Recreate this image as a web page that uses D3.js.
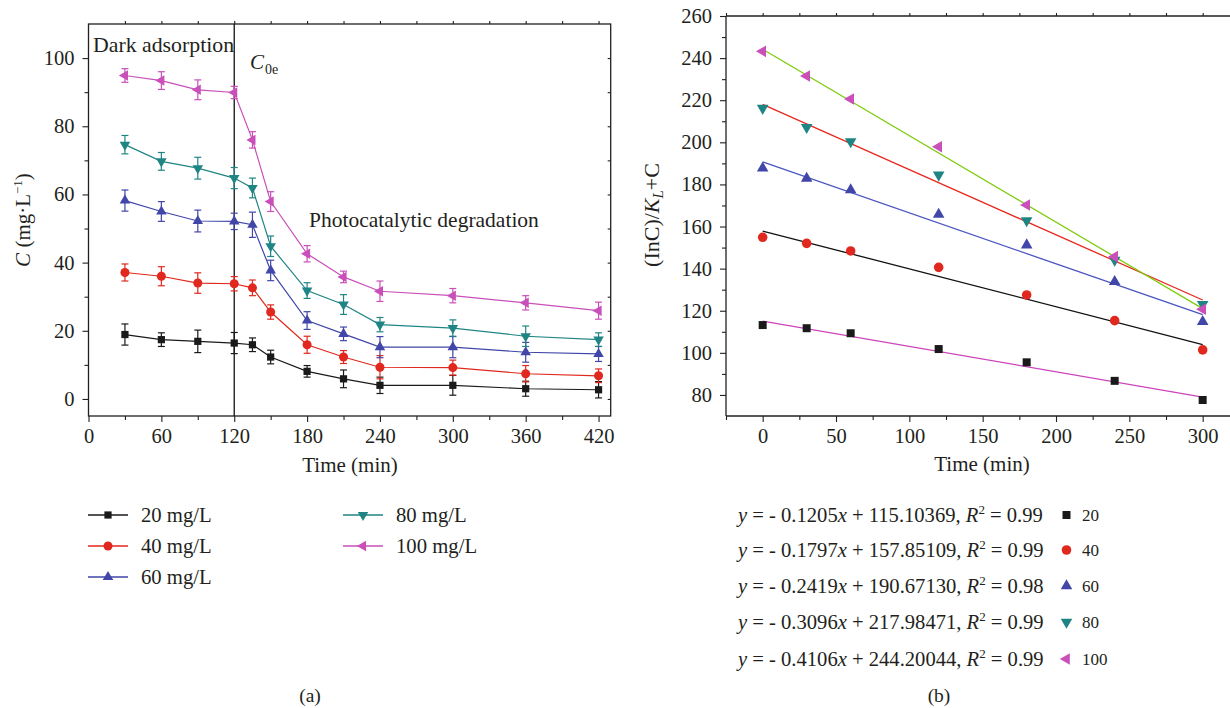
<!DOCTYPE html>
<html><head><meta charset="utf-8">
<script src="https://cdn.jsdelivr.net/npm/d3@7"></script>
<style>
html,body{margin:0;padding:0;background:#fff;}
svg text{font-family:"Liberation Serif","DejaVu Serif",serif;fill:#231f20;}
</style></head>
<body><svg id="c" width="1230" height="708"></svg>
<script>
// ---------- DATA ----------
const seriesNames = ["20 mg/L","40 mg/L","60 mg/L","80 mg/L","100 mg/L"];
const shortNames = ["20","40","60","80","100"];
const colors = ["#1a1a1a","#e0281e","#4146a8","#1f8584","#c94fb9"];
const fitColors = ["#cc44bb","#111111","#4a55c0","#e8281c","#7fcc10"];
const timesA = [30,60,90,120,135,150,180,210,240,300,360,420];
const valA20  = [18.9,17.4,16.9,16.4,15.9,12.3,8.1,5.9,4.0,4.0,3.0,2.7];
const valA40  = [37.1,36.0,34.0,33.8,32.6,25.5,15.9,12.3,9.3,9.2,7.4,6.8];
const valA60  = [58.2,55.0,52.2,52.1,51.1,37.7,23.0,19.1,15.2,15.2,13.7,13.2];
const valA80  = [74.6,69.7,67.7,64.8,61.9,44.8,31.8,27.7,21.8,20.8,18.4,17.4];
const valA100 = [94.9,93.4,90.7,89.9,76.0,57.9,42.6,35.8,31.6,30.3,28.2,25.9];
const errA20  = [3.1,2.0,3.3,3.1,2.0,2.0,1.7,2.6,2.4,2.9,2.2,2.4];
const errA40  = [2.5,2.8,3.0,2.1,2.3,2.1,2.5,1.9,3.4,2.2,2.4,2.0];
const errA60  = [3.1,2.9,3.2,2.4,3.7,3.0,2.6,2.0,3.1,3.1,2.9,2.2];
const errA80  = [2.7,2.6,3.2,3.1,2.9,3.0,2.3,2.9,2.1,2.4,3.0,2.0];
const errA100 = [2.0,2.6,2.9,1.8,2.4,2.9,2.4,1.7,3.0,2.1,2.1,2.5];
const xTicksA = [0,60,120,180,240,300,360,420];
const yTicksA = [0,20,40,60,80,100];

const timesB = [0,30,60,120,180,240,300];
const valB20  = [113.2,111.7,109.3,101.8,95.5,86.7,77.6];
const valB40  = [154.9,152.0,148.4,140.6,127.5,115.3,101.4];
const valB60  = [187.7,182.9,177.4,165.8,151.2,133.8,114.8];
const valB80  = [216.2,207.1,200.3,184.5,162.8,144.1,123.0];
const valB100 = [243.2,231.5,220.6,197.9,170.2,145.7,120.7];
const fitSlopes = [-0.1205,-0.1797,-0.2419,-0.3096,-0.4106];
const fitIntercepts = [115.10369,157.85109,190.67130,217.98471,244.20044];
const fitR2 = [0.99,0.99,0.98,0.99,0.99];
const xTicksB = [0,50,100,150,200,250,300];
const yTicksB = [80,100,120,140,160,180,200,220,240,260];

const valsA = [valA20,valA40,valA60,valA80,valA100];
const errsA = [errA20,errA40,errA60,errA80,errA100];
const valsB = [valB20,valB40,valB60,valB80,valB100];

// ---------- SETUP ----------
const svg = d3.select("#c");
const FT = 20.5; // tick font
const symTypes = [
  {t:d3.symbolSquare, rot:0},
  {t:d3.symbolCircle, rot:0},
  {t:d3.symbolTriangle, rot:0},
  {t:d3.symbolTriangle, rot:180},
  {t:d3.symbolTriangle, rot:-90}
];
const sizesA = [52,64,48,48,48];
const sizesB = [64,72,58,58,58];
function marker(g, i, x, y, size){
  g.append("path")
    .attr("d", d3.symbol().type(symTypes[i].t).size(size)())
    .attr("transform", `translate(${x},${y}) rotate(${symTypes[i].rot})`)
    .attr("fill", colors[i]);
}

// ---------- CHART A ----------
const xA = d3.scaleLinear().domain([0,430]).range([88.5,610.7]);
const yA = d3.scaleLinear().domain([-5,110]).range([416,24]);
const gA = svg.append("g");

gA.append("rect").attr("x",xA(0)).attr("y",yA(110)).attr("width",xA(430)-xA(0)).attr("height",yA(-5)-yA(110))
  .attr("fill","none").attr("stroke","#231f20").attr("stroke-width",1.3);

gA.append("g").attr("transform",`translate(0,${yA(-5)})`)
  .call(d3.axisBottom(xA).tickValues(xTicksA).tickSize(6).tickSizeOuter(0).tickPadding(6));
gA.append("g").attr("transform",`translate(0,${yA(-5)})`)
  .call(d3.axisBottom(xA).tickValues(d3.range(30,430,60)).tickSize(4).tickFormat("").tickSizeOuter(0));
gA.append("g").attr("transform",`translate(0,${yA(110)})`)
  .call(d3.axisTop(xA).tickValues(d3.range(30,430,30)).tickSize(3).tickFormat("").tickSizeOuter(0));
gA.append("g").attr("transform",`translate(${xA(0)},0)`)
  .call(d3.axisLeft(yA).tickValues(yTicksA).tickSize(6).tickSizeOuter(0).tickPadding(8));
gA.append("g").attr("transform",`translate(${xA(0)},0)`)
  .call(d3.axisLeft(yA).tickValues(d3.range(10,110,20)).tickSize(4).tickFormat("").tickSizeOuter(0));
gA.append("g").attr("transform",`translate(${xA(430)},0)`)
  .call(d3.axisLeft(yA).tickValues(d3.range(0,110,10)).tickSize(3).tickFormat("").tickSizeOuter(0));

gA.selectAll(".domain").attr("stroke","none");
gA.selectAll(".tick line").attr("stroke","#231f20").attr("stroke-width",1.1);
gA.selectAll(".tick text").attr("font-size",FT).attr("fill","#231f20");

gA.append("line").attr("x1",xA(120)).attr("x2",xA(120)).attr("y1",yA(110)).attr("y2",yA(-5))
  .attr("stroke","#111").attr("stroke-width",1.3);

valsA.forEach((vals,i)=>{
  const pts = timesA.map((t,k)=>({t,v:vals[k],e:errsA[i][k]}));
  gA.append("path").datum(pts)
    .attr("d", d3.line().x(d=>xA(d.t)).y(d=>yA(d.v)))
    .attr("fill","none").attr("stroke",colors[i]).attr("stroke-width",1.2);
  pts.forEach(d=>{
    const x=xA(d.t), y1=yA(d.v+d.e), y2=yA(d.v-d.e);
    gA.append("line").attr("x1",x).attr("x2",x).attr("y1",y1).attr("y2",y2).attr("stroke",colors[i]).attr("stroke-width",1.2);
    gA.append("line").attr("x1",x-3.5).attr("x2",x+3.5).attr("y1",y1).attr("y2",y1).attr("stroke",colors[i]).attr("stroke-width",1.2);
    gA.append("line").attr("x1",x-3.5).attr("x2",x+3.5).attr("y1",y2).attr("y2",y2).attr("stroke",colors[i]).attr("stroke-width",1.2);
  });
  pts.forEach(d=>marker(gA,i,xA(d.t),yA(d.v),sizesA[i]));
});

gA.append("text").attr("x",93).attr("y",52).attr("font-size",21.8).text("Dark adsorption");
const c0 = gA.append("text").attr("x",250).attr("y",69).attr("font-size",21);
c0.append("tspan").attr("font-style","italic").text("C");
c0.append("tspan").attr("font-size",14).attr("dy",5).attr("dx",1).text("0e");
gA.append("text").attr("x",309).attr("y",227).attr("font-size",21.5).text("Photocatalytic degradation");

gA.append("text").attr("x",350).attr("y",472).attr("text-anchor","middle").attr("font-size",21).text("Time (min)");
const ylA = gA.append("text").attr("transform","translate(30,220) rotate(-90)").attr("text-anchor","middle").attr("font-size",21);
ylA.append("tspan").attr("font-style","italic").text("C");
ylA.append("tspan").text(" (mg·L");
ylA.append("tspan").attr("font-size",13).attr("dy",-8).text("−1");
ylA.append("tspan").attr("dy",8).text(")");

const legPos = [[88,515],[88,546],[88,577],[343,515],[343,546]];
seriesNames.forEach((n,i)=>{
  const [lx,ly]=legPos[i];
  gA.append("line").attr("x1",lx).attr("x2",lx+40).attr("y1",ly).attr("y2",ly).attr("stroke",colors[i]).attr("stroke-width",1.4);
  marker(gA,i,lx+20,ly,sizesA[i]);
  gA.append("text").attr("x",lx+53).attr("y",ly).attr("dy","0.33em").attr("font-size",20.7).text(n);
});
gA.append("text").attr("x",310).attr("y",702).attr("text-anchor","middle").attr("font-size",19.5).text("(a)");

// ---------- CHART B ----------
const xB = d3.scaleLinear().domain([-25,325]).range([726,726+350*1.4667]);
const yB = d3.scaleLinear().domain([70,260]).range([416,16]);
const gB = svg.append("g");

gB.append("line").attr("x1",xB(-25)).attr("x2",1230).attr("y1",yB(260)).attr("y2",yB(260)).attr("stroke","#231f20").attr("stroke-width",1.3);
gB.append("line").attr("x1",xB(-25)).attr("x2",1230).attr("y1",yB(70)).attr("y2",yB(70)).attr("stroke","#231f20").attr("stroke-width",1.3);
gB.append("line").attr("x1",xB(-25)).attr("x2",xB(-25)).attr("y1",yB(260)).attr("y2",yB(70)).attr("stroke","#231f20").attr("stroke-width",1.3);

gB.append("g").attr("transform",`translate(0,${yB(70)})`)
  .call(d3.axisBottom(xB).tickValues(xTicksB).tickSize(6).tickSizeOuter(0).tickPadding(6));
gB.append("g").attr("transform",`translate(0,${yB(70)})`)
  .call(d3.axisBottom(xB).tickValues([-25,25,75,125,175,225,275]).tickSize(4).tickFormat("").tickSizeOuter(0));
gB.append("g").attr("transform",`translate(0,${yB(260)})`)
  .call(d3.axisTop(xB).tickValues([-25,0,25,50,75,100,125,150,175,200,225,250,275,300]).tickSize(3).tickFormat("").tickSizeOuter(0));
gB.append("g").attr("transform",`translate(${xB(-25)},0)`)
  .call(d3.axisLeft(yB).tickValues(yTicksB).tickSize(6).tickSizeOuter(0).tickPadding(8));
gB.append("g").attr("transform",`translate(${xB(-25)},0)`)
  .call(d3.axisLeft(yB).tickValues(d3.range(90,260,20)).tickSize(4).tickFormat("").tickSizeOuter(0));
gB.selectAll(".domain").attr("stroke","none");
gB.selectAll(".tick line").attr("stroke","#231f20").attr("stroke-width",1.1);
gB.selectAll(".tick text").attr("font-size",FT).attr("fill","#231f20");

fitSlopes.forEach((m,i)=>{
  const b=fitIntercepts[i];
  gB.append("line").attr("x1",xB(0)).attr("y1",yB(b)).attr("x2",xB(300)).attr("y2",yB(b+m*300))
    .attr("stroke",fitColors[i]).attr("stroke-width",1.3);
});
valsB.forEach((vals,i)=>{
  timesB.forEach((t,k)=>marker(gB,i,xB(t),yB(vals[k]),sizesB[i]));
});

gB.append("text").attr("x",982).attr("y",471).attr("text-anchor","middle").attr("font-size",21).text("Time (min)");
const ylB = gB.append("text").attr("transform","translate(659,215) rotate(-90)").attr("text-anchor","middle").attr("font-size",22);
ylB.append("tspan").text("(InC)/");
ylB.append("tspan").attr("font-style","italic").text("K");
ylB.append("tspan").attr("font-style","italic").attr("font-size",15).attr("dy",4).text("L");
ylB.append("tspan").attr("dy",-4).text("+C");

const fSlope=d3.format(".4f"), fInt=d3.format(".5f"), fR=d3.format(".2f");
const legYB=[515,550,586,622,659];
fitSlopes.forEach((m,i)=>{
  const ly=legYB[i];
  const t=gB.append("text").attr("x",738).attr("y",ly).attr("dy","0.33em").attr("font-size",20.6);
  t.append("tspan").attr("font-style","italic").text("y");
  t.append("tspan").text(" = - "+fSlope(Math.abs(m)));
  t.append("tspan").attr("font-style","italic").text("x");
  t.append("tspan").text(" + "+fInt(fitIntercepts[i])+", ");
  t.append("tspan").attr("font-style","italic").text("R");
  t.append("tspan").attr("font-size",13).attr("dy",-8).text("2");
  t.append("tspan").attr("dy",8).text(" = "+fR(fitR2[i]));
  marker(gB,i,1066.5,ly,sizesB[i]);
  gB.append("text").attr("x",1082).attr("y",ly).attr("dy","0.35em").attr("font-size",17).text(shortNames[i]);
});
gB.append("text").attr("x",939).attr("y",702).attr("text-anchor","middle").attr("font-size",19.5).text("(b)");
</script></body></html>
